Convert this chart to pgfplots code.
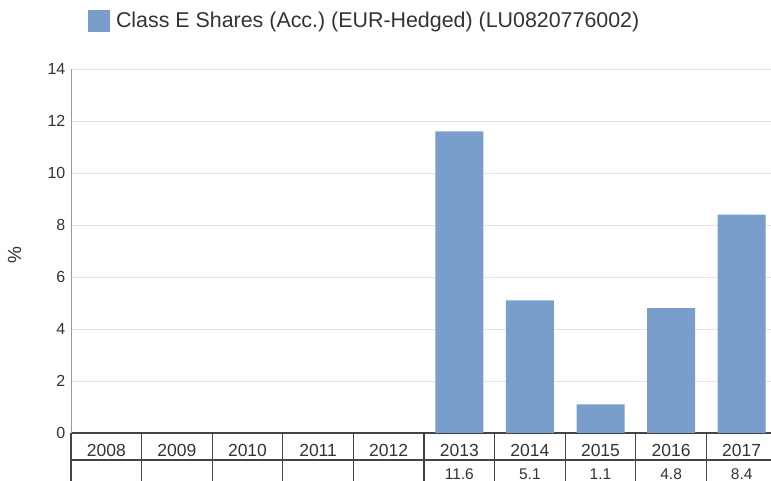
\documentclass[border=0pt]{standalone}
\usepackage{pgfplots}
\pgfplotsset{compat=1.18}
\usepackage{fontspec}
\setmainfont{Liberation Sans}
\frenchspacing
\definecolor{barblue}{RGB}{122,158,203}
\definecolor{txt}{RGB}{51,51,51}
\definecolor{gridc}{RGB}{228,228,228}
\definecolor{tabc}{RGB}{68,68,68}
\begin{document}
\begin{tikzpicture}
\useasboundingbox (0,0) rectangle (771pt,481pt);
\begin{axis}[
  at={(71pt,48pt)}, anchor=south west,
  scale only axis, width=706pt, height=364pt,
  xmin=-0.5, xmax=9.5, ymin=0, ymax=14,
  ybar, bar width=48pt,
  clip=false,
  /pgf/number format/assume math mode=true,
  axis x line=bottom, axis y line=left,
  x axis line style={-, draw=tabc, line width=1.3pt},
  y axis line style={-, draw=gray!80, line width=0.8pt},
  ytick={0,2,...,14},
  ymajorgrids, grid style={gridc, line width=0.8pt},
  ytick style={draw=none},
  xtick={0,...,9},
  xticklabels={2008,2009,2010,2011,2012,2013,2014,2015,2016,2017},
  xtick style={draw=none},
  x tick label style={font=\fontsize{17.5}{18}\selectfont, text=txt, anchor=base, yshift=-21pt},
  extra x ticks={5,6,7,8,9},
  extra x tick labels={11.6,5.1,1.1,4.8,8.4},
  extra x tick style={xtick style={draw=none}, grid=none, x tick label style={font=\fontsize{15.5}{16}\selectfont, text=txt, anchor=base, yshift=-23pt}},
  y tick label style={font=\fontsize{16}{18}\selectfont, text=txt},
  ylabel={\%},
  ylabel style={font=\fontsize{19}{20}\selectfont, text=txt, at={(axis description cs:-0.08,0.49)}, anchor=center},
  legend style={at={(axis description cs:0.02408,1.132)}, anchor=west, draw=none, fill=none,
    font=\fontsize{21.4}{24}\selectfont, text=txt, inner sep=0pt, outer sep=0pt,
    legend cell align=left},
  legend image code/.code={\fill[barblue] (0pt,-11pt) rectangle (22pt,11pt);},
]
\addplot[fill=barblue, draw=none] coordinates {(5,11.6) (6,5.1) (7,1.1) (8,4.8) (9,8.4)};
\addlegendentry{\hspace{4pt}Class E Shares (Acc.) (EUR-Hedged) (LU0820776002)}
\pgfplotsinvokeforeach{-0.5,0.5,1.5,2.5,3.5,4.5,5.5,6.5,7.5,8.5}{
  \draw[tabc, line width=1.3pt] (axis cs:#1,0) -- ++(0pt,-48pt);
}
\draw[tabc, line width=1.3pt] (axis cs:-0.5,0) ++(0pt,-27pt) -- ++(706pt,0pt);
\end{axis}
\end{tikzpicture}
\end{document}
